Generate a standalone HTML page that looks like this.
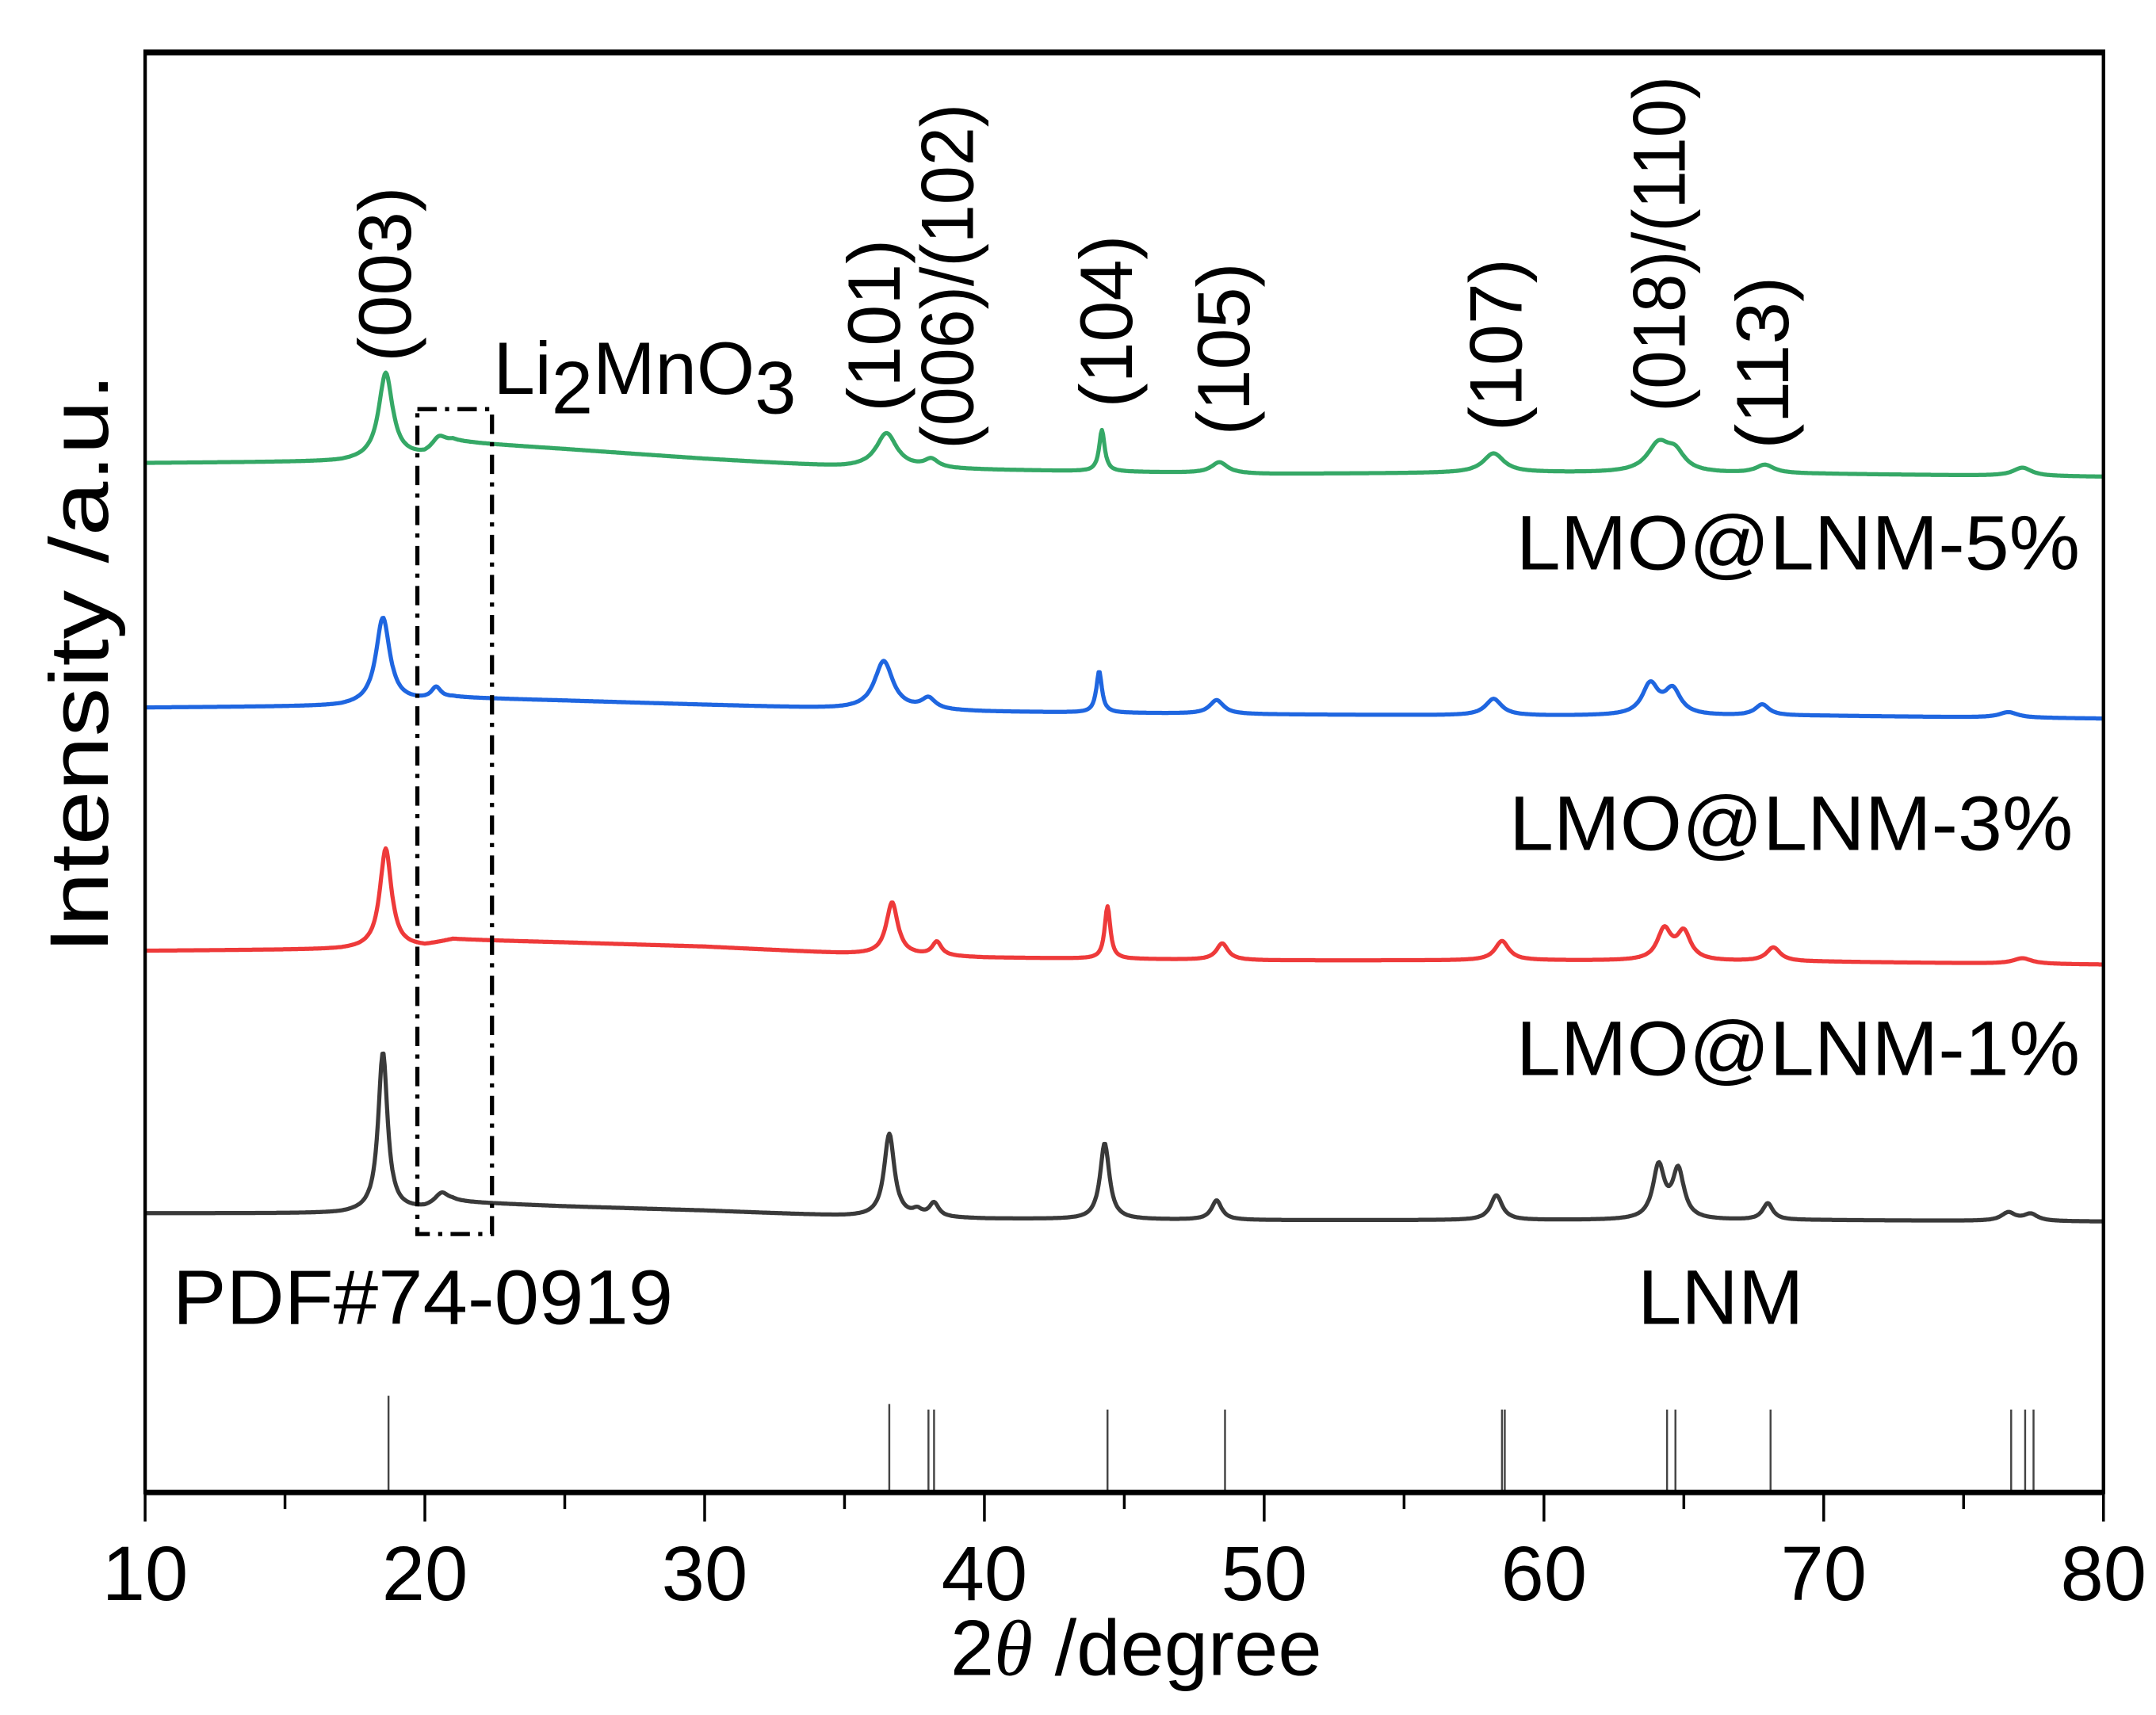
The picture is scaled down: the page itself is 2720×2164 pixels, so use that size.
<!DOCTYPE html>
<html><head><meta charset="utf-8"><style>
html,body{margin:0;padding:0;background:#fff}
svg{display:block}
text{font-family:"Liberation Sans",Arial,sans-serif}
</style></head><body>
<svg id="chart" width="2720" height="2164" viewBox="0 0 1560 1241" xmlns="http://www.w3.org/2000/svg">
<g id="series"></g>
<g id="refs"></g>
<rect x="105" y="37" width="1417" height="1043" fill="none" stroke="#000" stroke-width="2.5"/>
<line x1="104" y1="1080" x2="1523" y2="1080" stroke="#000" stroke-width="4"/>
<line x1="104" y1="38" x2="1523" y2="38" stroke="#000" stroke-width="4"/>
<g id="ticks"></g>
<text x="822" y="1212" font-size="57" text-anchor="middle">2<tspan font-style="italic" font-family="Liberation Serif">θ</tspan> /degree</text>
<text transform="translate(78,480) rotate(-90)" font-size="60" text-anchor="middle" textLength="420" lengthAdjust="spacingAndGlyphs">Intensity /a.u.</text>
<rect x="302" y="296" width="54" height="597" fill="none" stroke="#000" stroke-width="3" stroke-dasharray="14,6,3,6"/>
<text x="357" y="285" font-size="54">Li<tspan dy="14">2</tspan><tspan dy="-14">MnO</tspan><tspan dy="14">3</tspan></text>
<g id="hkl"></g>
<text x="1097" y="412" font-size="56" textLength="408" lengthAdjust="spacingAndGlyphs">LMO@LNM-5%</text>
<text x="1092" y="615" font-size="56" textLength="408" lengthAdjust="spacingAndGlyphs">LMO@LNM-3%</text>
<text x="1097" y="778" font-size="56" textLength="408" lengthAdjust="spacingAndGlyphs">LMO@LNM-1%</text>
<text x="1185" y="958" font-size="56" textLength="120" lengthAdjust="spacingAndGlyphs">LNM</text>
<text x="125" y="958" font-size="56" textLength="362" lengthAdjust="spacingAndGlyphs">PDF#74-0919</text>
</svg>
<script>
const xTicks=[10,20,30,40,50,60,70,80];
const refPos=[18.7,36.6,38.0,38.2,44.4,48.6,58.5,58.6,64.4,64.7,68.1,76.7,77.2,77.5];
const refH=[70,64,60,60,60,60,60,60,60,60,60,60,60,60];
const names=['lmo-lnm-5','lmo-lnm-3','lmo-lnm-1','lnm'];
const colors=['#35a866','#1f66e0','#ee3a3a','#3a3a3a'];
const offsets=[340,515,690,880];
const baseX=[10,17,20,21,25,30,35,40,50,60,70,80];
const baseG=[5,6,10,20,15,8,2,0,-3,-2,-3,-5];
const baseB=[3,4,8,10,8,5,2,0,-2,-3,-3,-5];
const baseR=[2,3,5,10,8,5,0,-3,-5,-5,-6,-8];
const baseK=[2,2,5,10,7,4,0,-2,-3,-3,-3,-4];
const pkPosG=[18.6,20.5,36.5,38.1,44.2,48.4,58.2,64.1,64.7,67.9,77.1];
const pkHG=[62,8,25,6,30,8,14,20,12,6,6];
const pkWG=[0.3,0.3,0.45,0.3,0.12,0.35,0.45,0.5,0.4,0.4,0.4];
const pkPosB=[18.5,20.4,36.4,38.0,44.1,48.3,58.2,63.8,64.6,67.8,76.6];
const pkHB=[62,8,35,8,30,10,12,22,18,8,4];
const pkWB=[0.3,0.2,0.4,0.3,0.12,0.3,0.35,0.35,0.35,0.3,0.4];
const pkPosR=[18.6,36.7,38.3,44.4,48.5,58.5,64.3,65.0,68.2,77.1];
const pkHR=[72,38,10,38,12,14,22,20,10,4];
const pkWR=[0.25,0.25,0.2,0.12,0.25,0.3,0.3,0.3,0.3,0.4];
const pkPosK=[18.5,20.6,36.6,37.6,38.2,44.3,48.3,58.3,64.1,64.8,68.0,76.6,77.4];
const pkHK=[115,8,60,4,10,55,14,18,38,35,12,6,5];
const pkWK=[0.2,0.3,0.22,0.2,0.2,0.2,0.22,0.25,0.25,0.25,0.22,0.3,0.3];

const X=v=>105+(v-10)*(1417/70);
const NS='http://www.w3.org/2000/svg';
function mk(t,a){const e=document.createElementNS(NS,t);for(const k in a)e.setAttribute(k,a[k]);return e;}
function interp(xs,ys,x){for(let i=0;i<xs.length-1;i++){if(x<=xs[i+1]){const f=(x-xs[i])/(xs[i+1]-xs[i]);return ys[i]+f*(ys[i+1]-ys[i]);}}return ys[ys.length-1];}
const bases=[baseG,baseB,baseR,baseK];
const pos=[pkPosG,pkPosB,pkPosR,pkPosK],hs=[pkHG,pkHB,pkHR,pkHK],ws=[pkWG,pkWB,pkWR,pkWK];
const sg=document.getElementById('series');
for(let s=0;s<4;s++){
  let d='';
  for(let x=10;x<=80.001;x+=0.04){
    let I=interp(baseX,bases[s],x);
    for(let j=0;j<pos[s].length;j++){const g=(x-pos[s][j])/ws[s][j];I+=hs[s][j]/(1+g*g);}
    d+=(d?'L':'M')+X(x).toFixed(1)+','+(offsets[s]-I).toFixed(1);
  }
  const p=mk('path',{d:d,fill:'none',stroke:colors[s],'stroke-width':3,'stroke-linejoin':'round'});
  
  
  sg.appendChild(p);
}
const rg=document.getElementById('refs');
refPos.forEach((v,i)=>{
  const l=mk('line',{x1:X(v),x2:X(v),y1:1080,y2:1080-refH[i],stroke:'#444','stroke-width':1.4});
  
  
  rg.appendChild(l);
});
const tg=document.getElementById('ticks');
for(let v=10;v<=80;v+=5){
  const major=v%10===0;
  const l=mk('line',{x1:X(v),x2:X(v),y1:1080,y2:major?1101:1092,stroke:'#000','stroke-width':2});
  
  
  tg.appendChild(l);
}
xTicks.forEach(v=>{
  const t=mk('text',{x:X(v),y:1158,'font-size':56,'text-anchor':'middle'});
  t.textContent=v;
  
  
  tg.appendChild(t);
});
const hkl=[['(003)',278,262,127],['(101)',632,298,125],['(006)/(102)',685,325,250],['(104)',800,295,125],['(105)',885,315,125],['(107)',1082,312,125],['(018)/(110)',1200,298,243],['(113)',1275,325,125]];
const hg=document.getElementById('hkl');
hkl.forEach(h=>{
  const t=mk('text',{transform:`translate(${h[1]+19},${h[2]}) rotate(-90)`,'font-size':54,textLength:h[3],lengthAdjust:'spacingAndGlyphs'});
  t.textContent=h[0];
  
  
  hg.appendChild(t);
});
</script>
</body></html>
